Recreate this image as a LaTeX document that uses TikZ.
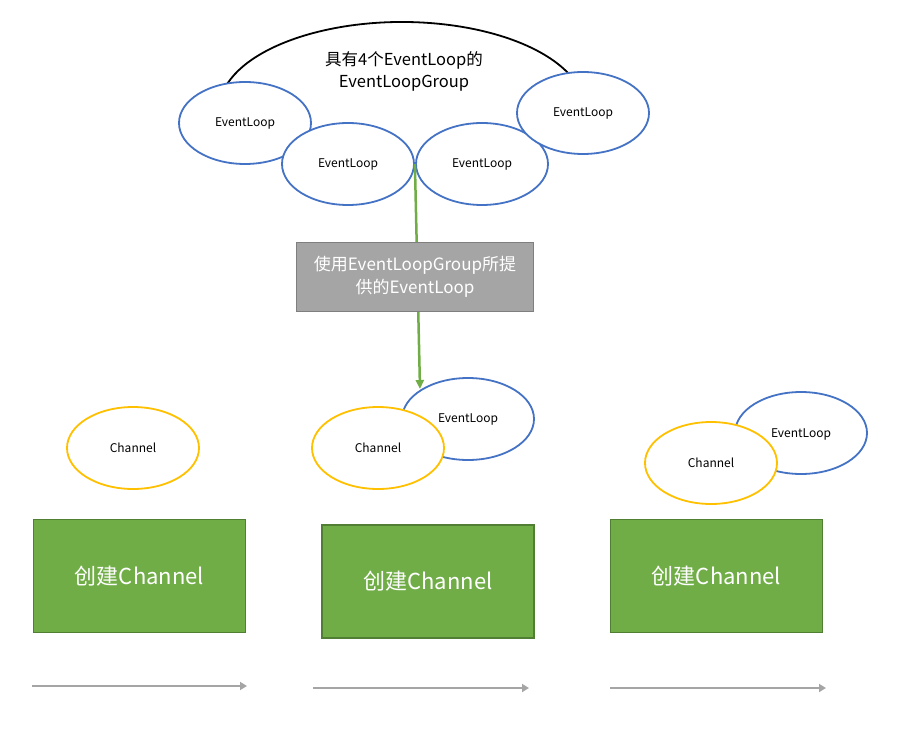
\documentclass[tikz,border=0pt]{standalone}
\usepackage{fontspec}
\setmainfont{Noto Sans CJK SC}
\usetikzlibrary{shapes.geometric,arrows.meta}
\definecolor{elblue}{HTML}{4472C4}
\definecolor{chyellow}{HTML}{FFC000}
\definecolor{boxgreen}{HTML}{70AD47}
\definecolor{boxgreenline}{HTML}{507E32}
\definecolor{boxgray}{HTML}{A5A5A5}
\definecolor{boxgrayline}{HTML}{7F7F7F}
\tikzset{
  oval/.style={ellipse, minimum width=132pt, minimum height=82pt, inner sep=0pt, fill=white, line width=1.8pt, font=\fontsize{12}{14}\selectfont},
  evloop/.style={oval, draw=elblue},
  chan/.style={oval, draw=chyellow},
  makebox/.style={draw=boxgreenline, fill=boxgreen, line width=1.8pt, minimum width=212pt, minimum height=113pt, inner sep=0pt, text=white, font=\fontsize{22}{26}\selectfont},
  timearrow/.style={draw=boxgray, line width=2.8pt, -{Triangle[length=7pt,width=8pt]}},
}
\begin{document}
\begin{tikzpicture}[x=1pt,y=-1pt]
\useasboundingbox (0,0) rectangle (910,735);
% group outline
\draw[line width=1.8pt, black] (402,110) ++(165:183 and -88) arc[start angle=165, end angle=15, x radius=183, y radius=-88];
\node[align=center, font=\fontsize{16.5}{22}\selectfont] (grp) at (404,71) {具有4个EventLoop的\\EventLoopGroup};
% event loops in the group
\node[evloop] (e1) at (245,123) {EventLoop};
\node[evloop] (e2) at (348,164) {EventLoop};
\node[evloop] (e3) at (482,164) {EventLoop};
\node[evloop] (e4) at (583,113) {EventLoop};
% channels and event loops
\node[chan] (c1) at (133,448) {Channel};
\node[evloop] (m2) at (468,419) {\hspace*{0pt}};
\node at (468,419) {\fontsize{12}{14}\selectfont EventLoop};
\node[chan] (c2) at (378,448) {Channel};
\node[evloop] (m3) at (801,433) {\hspace*{0pt}};
\node at (801,434) {\fontsize{12}{14}\selectfont EventLoop};
\node[chan] (c3) at (711,463) {Channel};
% green arrow
\coordinate (arrend) at (420,389);
\draw[draw=boxgreen, line width=2.5pt, -{Triangle[length=9pt,width=8pt]}] (e2.east) -- (arrend);
% gray box
\node[draw=boxgrayline, fill=boxgray, line width=1.8pt, minimum width=237pt, minimum height=69pt, inner sep=0pt, text=white, align=center, font=\fontsize{17}{23}\selectfont] (use) at (415,277) {使用EventLoopGroup所提\\供的EventLoop};
% create boxes
\node[makebox] (b1) at (139.5,576) {创建Channel};
\node[makebox] (b2) at (428,581.5) {创建Channel};
\node[makebox] (b3) at (716.5,576) {创建Channel};
% time arrows
\coordinate (a1s) at (32,686); \coordinate (a1e) at (247,686);
\coordinate (a2s) at (313,688); \coordinate (a2e) at (529,688);
\coordinate (a3s) at (610,688); \coordinate (a3e) at (826,688);
\draw[timearrow] (a1s) -- (a1e);
\draw[timearrow] (a2s) -- (a2e);
\draw[timearrow] (a3s) -- (a3e);
\end{tikzpicture}
\end{document}
